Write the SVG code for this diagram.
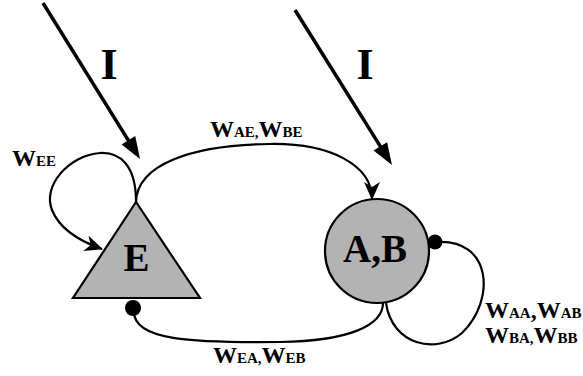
<svg xmlns="http://www.w3.org/2000/svg" width="583" height="376" viewBox="0 0 583 376">
<style>
.edge{fill:none;stroke:#000;stroke-width:2.2}
.inp{fill:none;stroke:#000;stroke-width:3.5}
.node{fill:#b3b3b3;stroke:#000;stroke-width:2.2}
.lbl{font-family:"Liberation Serif","Times New Roman",serif;font-weight:bold;fill:#000}
.W{font-size:24px}
.s{font-size:15px}
.big{font-size:39px}
.I{font-size:44px}
</style>
<defs>
<marker id="arr" markerUnits="userSpaceOnUse" markerWidth="20" markerHeight="18" refX="17" refY="8" orient="auto" overflow="visible">
<path d="M0,0 L18,8 L0,16 L5,8 z" fill="#000"/>
</marker>
</defs>
<rect width="583" height="376" fill="#fff"/>
<g id="connectors">
<line class="inp" x1="43" y1="3" x2="131" y2="144.6"/>
<polygon points="140,159 121.6,144.5 135.2,136.1" fill="#000"/>
<line class="inp" x1="295" y1="10" x2="383" y2="150.6"/>
<polygon points="392,165 373.5,150.6 387.1,142.2" fill="#000"/>
<path class="edge" d="M136 202 C136 165 120 152 100 153 C70 155 42 185 52 210 C60 230 82 242 102 249" marker-end="url(#arr)"/>
<path class="edge" d="M136 202 C137 165 190 145 270 144 C330 143 372 165 372 199" marker-end="url(#arr)"/>
<path class="edge" d="M134 312 C134 340 190 343 280 342 C350 341 383 325 383 303"/>
<path class="edge" d="M436 242 C492 238 496 300 462 333 C436 355 392 345 386 303"/>
<circle cx="133" cy="308" r="8" fill="#000"/>
<circle cx="435" cy="242" r="7.5" fill="#000"/>
</g>
<g id="node-E">
<polygon class="node" points="136,202 73,298 200,298"/>
<text class="lbl big" x="136.5" y="271" text-anchor="middle">E</text>
</g>
<g id="node-AB">
<circle class="node" cx="377" cy="251" r="52"/>
<text class="lbl big" x="375" y="262" text-anchor="middle">A,B</text>
</g>
<g id="labels">
<text class="lbl I" x="109" y="79" text-anchor="middle">I</text>
<text class="lbl I" x="365" y="79" text-anchor="middle">I</text>
<text class="lbl" x="12" y="166"><tspan class="W">W</tspan><tspan class="s">EE</tspan></text>
<text class="lbl" x="210" y="137"><tspan class="W">W</tspan><tspan class="s">AE,</tspan><tspan class="W">W</tspan><tspan class="s">BE</tspan></text>
<text class="lbl" x="213" y="363"><tspan class="W">W</tspan><tspan class="s">EA,</tspan><tspan class="W">W</tspan><tspan class="s">EB</tspan></text>
<text class="lbl" x="485" y="318"><tspan class="W">W</tspan><tspan class="s">AA</tspan><tspan class="W">,W</tspan><tspan class="s">AB</tspan></text>
<text class="lbl" x="485" y="343"><tspan class="W">W</tspan><tspan class="s">BA,</tspan><tspan class="W">W</tspan><tspan class="s">BB</tspan></text>
</g>
</svg>
